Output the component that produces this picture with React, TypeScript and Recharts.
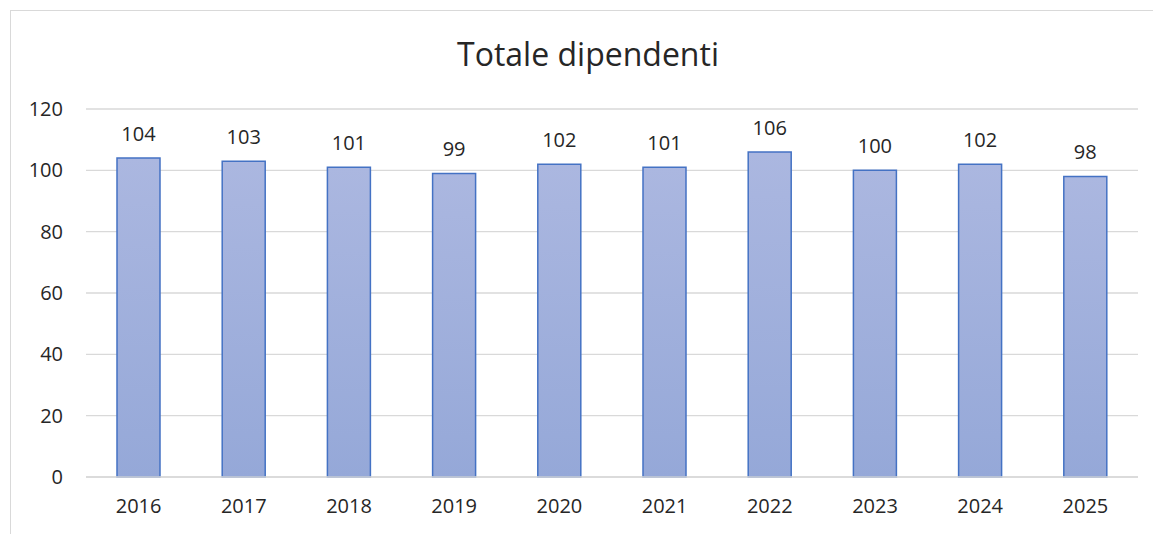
import React from 'react';
import { BarChart, Bar, XAxis, YAxis, CartesianGrid, LabelList } from 'recharts';

const years = ['2016', '2017', '2018', '2019', '2020', '2021', '2022', '2023', '2024', '2025'];
const employees = [104, 103, 101, 99, 102, 101, 106, 100, 102, 98];
const yTicks = [0, 20, 40, 60, 80, 100, 120];

const data = years.map((year, i) => ({ year, value: employees[i] }));

const FONT = '"Open Sans", "Liberation Sans", sans-serif';

const App: React.FC = () => {
  return (
    <div style={{ position: 'absolute', left: 0, top: 0, width: 1153, height: 534, background: '#fff', overflow: 'hidden' }}>
      {/* chart frame, as in the spreadsheet export */}
      <div
        style={{
          position: 'absolute',
          left: 10,
          top: 10,
          width: 1200,
          height: 600,
          border: '1px solid #d9d9d9',
          boxSizing: 'border-box',
        }}
      />
      <svg width={1153} height={90} style={{ position: 'absolute', left: 0, top: 0 }}>
        <text x={588} y={66} textAnchor="middle" fontFamily={FONT} fontSize={32} fill="#262626">
          Totale dipendenti
        </text>
      </svg>
      <div style={{ position: 'absolute', left: 0, top: 0 }}>
        <BarChart
          width={1153}
          height={534}
          data={data}
          margin={{ top: 109, right: 15, left: 0, bottom: 27 }}
        >
          <defs>
            <linearGradient id="barFill" x1="0" y1="0" x2="0" y2="1">
              <stop offset="0%" stopColor="#abb7e0" />
              <stop offset="100%" stopColor="#95a8d8" />
            </linearGradient>
          </defs>
          <CartesianGrid vertical={false} stroke="#d9d9d9" strokeWidth={1.3} />
          <XAxis
            dataKey="year"
            height={30}
            axisLine={{ stroke: '#d9d9d9', strokeWidth: 1.3 }}
            tickLine={false}
            tickSize={0}
            tickMargin={22}
            tick={{ fontSize: 20, fill: '#262626', fontFamily: FONT }}
          />
          <YAxis
            width={86}
            domain={[0, 120]}
            ticks={yTicks}
            axisLine={false}
            tickLine={false}
            tickSize={0}
            tickMargin={23}
            tick={{ fontSize: 20, fill: '#262626', fontFamily: FONT }}
          />
          <Bar
            dataKey="value"
            barSize={43}
            fill="url(#barFill)"
            stroke="#4472c4"
            strokeWidth={1.5}
            isAnimationActive={false}
          >
            <LabelList
              dataKey="value"
              position="top"
              offset={17}
              style={{ fontSize: 20, fill: '#262626', fontFamily: FONT }}
            />
          </Bar>
        </BarChart>
      </div>
    </div>
  );
};

export default App;
